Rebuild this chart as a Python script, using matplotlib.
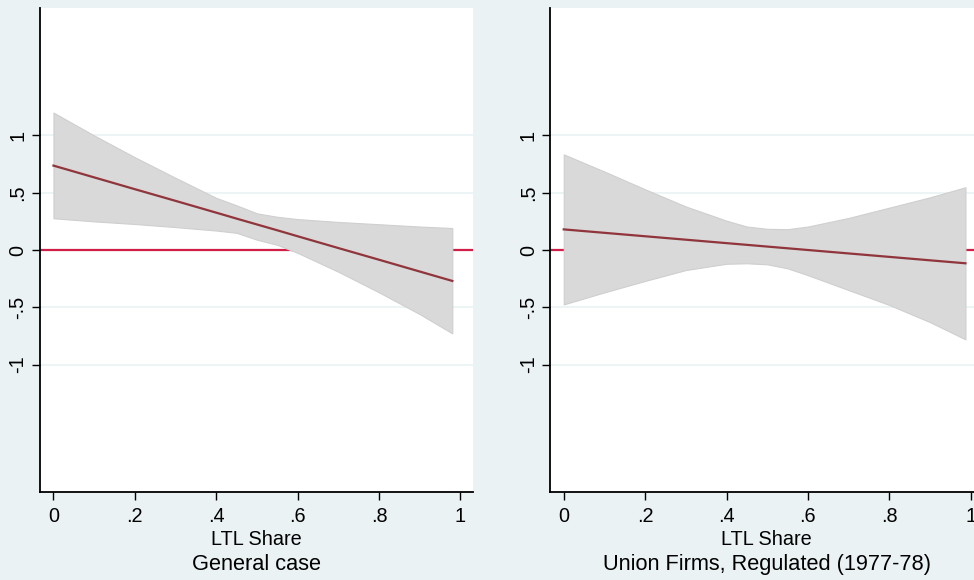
### Linear fit with 95% CI of the LTL share effect, two samples side by side
# Stata s2color look: light blue-grey background, white plot region

import numpy as np
import matplotlib.pyplot as plt

### Data

# left panel - General case
gen_x = [0.0, 0.1, 0.2, 0.3, 0.4, 0.45, 0.5, 0.55, 0.6, 0.7, 0.8, 0.9, 0.98]
gen_fit = [0.737, 0.634, 0.531, 0.429, 0.326, 0.274, 0.223, 0.172, 0.120,
           0.017, -0.085, -0.188, -0.270]
gen_hi = [1.20, 1.00, 0.81, 0.63, 0.455, 0.39, 0.32, 0.29, 0.27, 0.245,
          0.225, 0.205, 0.192]
gen_lo = [0.277, 0.25, 0.227, 0.20, 0.17, 0.15, 0.09, 0.045, -0.025, -0.19,
          -0.37, -0.56, -0.728]

# right panel - Union Firms, Regulated (1977-78)
uni_x = [0.0, 0.1, 0.2, 0.3, 0.4, 0.45, 0.5, 0.55, 0.6, 0.7, 0.8, 0.9, 0.987]
uni_fit = [0.180, 0.150, 0.120, 0.090, 0.060, 0.045, 0.030, 0.015, 0.0,
           -0.030, -0.060, -0.090, -0.116]
uni_hi = [0.835, 0.685, 0.53, 0.38, 0.256, 0.205, 0.185, 0.182, 0.205, 0.28,
          0.37, 0.46, 0.548]
uni_lo = [-0.475, -0.37, -0.27, -0.175, -0.12, -0.116, -0.125, -0.16, -0.22,
          -0.35, -0.48, -0.63, -0.78]

xticks = [0, 0.2, 0.4, 0.6, 0.8, 1]
xtick_lbl = ['0', '.2', '.4', '.6', '.8', '1']
yticks = [-1, -0.5, 0, 0.5, 1]
ytick_lbl = ['-1', '-.5', '0', '.5', '1']

panels = [
    (gen_x, gen_fit, gen_hi, gen_lo, 'General case'),
    (uni_x, uni_fit, uni_hi, uni_lo, 'Union Firms, Regulated (1977-78)'),
]

### Styles
bg_col = '#EAF2F3'
ci_col = '#D9D9D9'
fit_col = '#90353B'
zero_col = '#D01E48'

plt.rcParams['font.family'] = ['Liberation Sans', 'DejaVu Sans']

fig = plt.figure(figsize=(9.74, 5.8), dpi=100)
fig.patch.set_facecolor(bg_col)

# axes boxes in figure fraction (right one runs past the edge, as in the source)
boxes = [[0.0411, 0.1517, 0.4446, 0.8345],
         [0.5650, 0.1517, 0.4446, 0.8345]]

for box, (xs, fit, hi, lo, title) in zip(boxes, panels):
    ax = fig.add_axes(box)
    ax.set_facecolor('white')

    # zero line sits under the CI band, fit line on top
    ax.axhline(0, color=zero_col, linewidth=1.6, zorder=1.5)
    ax.fill_between(xs, lo, hi, color=ci_col, edgecolor='#CFCFCF',
                    linewidth=0.8, zorder=2)
    ax.plot(xs, fit, color=fit_col, linewidth=1.6, zorder=4)

    ax.set_xlim(-0.033, 1.031)
    ax.set_ylim(-2.113, 2.113)

    ax.set_xticks(xticks)
    ax.set_xticklabels(xtick_lbl)
    ax.set_yticks(yticks)
    ax.set_yticklabels(ytick_lbl, rotation=90, va='center')
    ax.tick_params(axis='both', length=6, width=1, color='black',
                   labelsize=14.3, pad=5)
    ax.tick_params(axis='y', pad=3)

    ax.yaxis.grid(True, color=bg_col, linewidth=1.2, zorder=1)
    ax.set_axisbelow(True)

    for side in ['top', 'right']:
        ax.spines[side].set_visible(False)
    for side in ['left', 'bottom']:
        ax.spines[side].set_linewidth(1.3)
        ax.spines[side].set_color('black')

    ax.set_xlabel('LTL Share', fontsize=14.3, labelpad=3)
    ax.text(0.5, -0.149, title, transform=ax.transAxes, ha='center',
            va='center', fontsize=15.7)

fig.savefig('out.png', dpi=100, facecolor=bg_col)
